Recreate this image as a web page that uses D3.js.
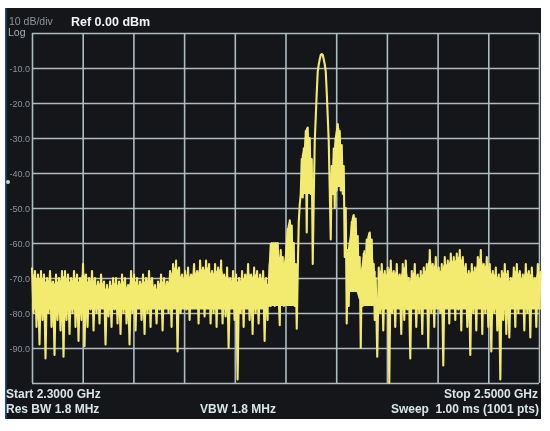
<!DOCTYPE html>
<html><head><meta charset="utf-8">
<script src="https://cdn.jsdelivr.net/npm/d3@7"></script>
<style>html,body{margin:0;padding:0;background:#fff}svg{display:block;filter:blur(0.45px)}text{font-family:"Liberation Sans",Arial,sans-serif}</style>
</head><body><div id="c"></div>
<script>
const freqTicks=[2.30,2.32,2.34,2.36,2.38,2.40,2.42,2.44,2.46,2.48,2.50];
const levelTicks=[0,-10,-20,-30,-40,-50,-60,-70,-80,-90,-100];
const levelLabels=["-10.0","-20.0","-30.0","-40.0","-50.0","-60.0","-70.0","-80.0","-90.0"];
const leftHigh=[-67,-68,-69,-68,-69,-70,-68,-71,-69,-70,-68,-68,-69,-70,-68,-69,-70,-66,-69,-70,-68,-70,-71,-69,-71,-72,-71,-70,-70,-71,-69,-70,-72,-68,-69,-70,-71,-69,-70,-68,-70,-72,-71,-69,-70,-71,-68,-66,-65,-67,-69,-68,-67,-69,-66,-68,-65,-67,-65,-66,-68,-66,-67,-65,-69,-67,-70,-68,-69,-70,-68,-69,-66,-69,-67,-68,-69,-68,-70];
const leftLow=[-80,-84,-89,-82,-93,-80,-84,-92,-82,-85,-92.5,-82,-86,-80,-84,-88,-82,-89.5,-84,-79,-85,-80,-83,-78,-89,-81,-84,-79,-83,-86,-80,-83,-89,-80,-85,-78,-82,-86,-80,-84,-77,-83,-79,-85,-76,-80,-84,-78,-91,-80,-76,-79,-82,-74,-78,-83,-77,-81,-78,-83,-80,-84,-78,-83,-81,-90,-78,-82,-99,-80,-84,-78,-82,-86,-80,-83,-78,-88,-82];
const centerTrace=[
-72,-78,-66,-78,-60,-76,-60,-78,-60,-76,
-60,-76,-83.5,-62,-76,-64,-78,-66,-76,-62,
-56,-68,-53.5,-66,-55,-72,-60,-78,-66,-84.5,
-68,-54,-49,-46,-36,-47,-33,-42,-28,-57,
-27,-42,-30,-46,-36,-66,-47,-31,-24,-17,
-11,-9,-7.5,-6.3,-6,-6.3,-7.5,-9,-11,-17,
-24,-31,-45,-59,-38,-46,-33,-50,-30,-45,
-26,-40,-28,-45,-32,-46,-38,-64,-50,-83,
-62,-78,-60,-70,-54,-64,-52,-62,-53,-68,
-58,-74,-64,-90,-68,-78,-63,-72,-66,-59,
-70,-58,-57,-66,-59,-76,-66,-82,-70];
const centerTop=[
-72,-66,-60,-60,-60,-60,-60,-61,-60,-60,
-60,-62,-64,-64,-66,-66,-66,-64,-60,-57,
-55,-54,-53.5,-54,-56,-60,-62,-66,-70,-72,
null,null,-49,-46,-35,-34,-33,-30,-27.5,-27,
-27.5,-30,-34,-36,-42,-46,null,null,null,null,
null,null,null,null,null,null,null,null,null,null,
null,null,null,null,-45,-36,-34,-30,-28,-26.5,
-26,-26.5,-28,-31,-34,-36,-44,-46,null,null,
-62,-60,-58,-55,-53,-52,-52,-53,-54,-58,
-62,-66,-68,-68,-66,-64,-62,-62,-64,-60,
-58,-57,-57,-58,-60,-64,-66,-68,-68];
const centerFloor=[
-78,-78,-78,-78,-78,-78,-78,-78,-78,-78,
-78,-78,-78,-78,-78,-78,-78,-78,-78,-78,
-78,-78,-78,-78,-78,-78,-78,-78,-76,-74,
null,null,-49,-48,-46,-46,-46,-46,-46,-46,
-46,-46,-46,-46,-46,-46,null,null,null,null,
null,null,null,null,null,null,null,null,null,null,
null,null,null,null,-45,-45,-45,-44,-44,-44,
-44,-44,-44,-44,-45,-45,-45,-46,null,null,
-74,-74,-74,-74,-74,-74,-74,-74,-74,-74,
-75,-76,-76,-77,-77,-77,-78,-78,-78,-78,
-78,-78,-78,-78,-78,-78,-78,-78,-78];
const rightHigh=[-67,-66,-68,-67,-65,-68,-66,-69,-66,-65,-70,-68,-66,-69,-68,-67,-66,-62,-66,-64,-67,-66,-64,-65,-63,-64,-63,-62,-64,-66,-68,-66,-67,-64,-62,-66,-64,-66,-68,-67,-69,-68,-66,-68,-70,-67,-66,-68,-69,-66,-68,-67,-70,-66,-68];
const rightLow=[-92.5,-80,-85,-78,-100,-80,-84,-78,-86,-82,-79,-93,-78,-84,-80,-86,-78,-90,-80,-84,-76,-80,-95,-78,-83,-76,-82,-79,-85,-78,-84,-92,-80,-85,-77,-86,-80,-84,-91,-80,-85,-99,-82,-86,-87,-78,-84,-80,-78,-85,-80,-87,-78,-84,-76];
const noiseSolidFloor=-79;
const sweepPoints=1001, leftFirst=0, centerFirst=465, rightFirst=678;
const noiseStep=2.96, centerStep=1.972;

const W=550,H=431;
const svg=d3.select("#c").append("svg").attr("width",W).attr("height",H);
svg.append("rect").attr("x",5).attr("y",8).attr("width",536).attr("height",411).attr("fill","#14161a");
svg.append("rect").attr("x",5).attr("y",8).attr("width",1.5).attr("height",411).attr("fill","#1d4f86");
svg.append("circle").attr("cx",8).attr("cy",182).attr("r",2).attr("fill","#c8d2d6");

const x=d3.scaleLinear().domain([2.3,2.5]).range([32,539]);
const y=d3.scaleLinear().domain([0,-100]).range([33,383]);
const gridColor="#aebcc2";
const gx=svg.append("g").attr("transform","translate(0,383)")
  .call(d3.axisBottom(x).tickValues(freqTicks).tickSize(-350).tickFormat(""));
gx.select(".domain").remove();
gx.selectAll("line").attr("stroke",gridColor).attr("stroke-width",1.6);
const gy=svg.append("g").attr("transform","translate(32,0)")
  .call(d3.axisLeft(y).tickValues(levelTicks).tickSize(-507).tickFormat(""));
gy.select(".domain").remove();
gy.selectAll("line").attr("stroke",gridColor).attr("stroke-width",1.6);
svg.selectAll(".lev").data(levelLabels).join("text").attr("class","lev")
  .attr("x",30).attr("y",(d,i)=>y(levelTicks[i+1])+3.5).attr("text-anchor","end")
  .attr("font-size",9).attr("fill","#8d9598").text(d=>d);

const yellow="#f3eb70";
const ghz=s=>2.3+0.2*s/(sweepPoints-1);
const sx=s=>x(ghz(s));
const pts=[];
d3.zip(leftHigh,leftLow).forEach((p,i)=>{
  pts.push([leftFirst+i*2*noiseStep,p[0]]);
  pts.push([leftFirst+(i*2+1)*noiseStep,p[1]]);
});
centerTrace.forEach((v,i)=>pts.push([centerFirst+i*centerStep,v]));
d3.zip(rightHigh,rightLow).forEach((p,i)=>{
  pts.push([rightFirst+(i*2+1)*noiseStep,p[1]]);
  pts.push([rightFirst+(i*2+2)*noiseStep,p[0]]);
});
const bandArea=d3.area().x(d=>sx(d.s)).y0(d=>y(d.floor)).y1(d=>y(d.top)).defined(d=>d.top!==null);
const leftBand=leftHigh.map((v,i)=>({s:leftFirst+i*2*noiseStep,top:v-1.5,floor:noiseSolidFloor}));
const rightBand=rightHigh.map((v,i)=>({s:rightFirst+(i*2+2)*noiseStep,top:v-1.5,floor:noiseSolidFloor}));
const centerBand=centerTop.map((v,i)=>({s:centerFirst+i*centerStep,top:v,floor:centerFloor[i]}));
[leftBand,centerBand,rightBand].forEach(b=>{
  svg.append("path").datum(b).attr("d",bandArea).attr("fill",yellow);
});
const line=d3.line().x(d=>sx(d[0])).y(d=>y(d[1]));
svg.append("path").datum(pts).attr("d",line).attr("fill","none")
  .attr("stroke",yellow).attr("stroke-width",2.1).attr("stroke-linejoin","round");

const labels=[
 ["10 dB/div",9,25,"start",10.5,"#8d9598","normal"],
 ["Log",8,36,"start",10.5,"#a9b0b3","normal"],
 ["Ref 0.00 dBm",71,26,"start",12.5,"#f2f4f4","bold"],
 ["Start 2.3000 GHz",6,398,"start",12,"#d9e6e8","bold"],
 ["Res BW 1.8 MHz",6,413,"start",12,"#d9e6e8","bold"],
 ["VBW 1.8 MHz",200,413,"start",12,"#d9e6e8","bold"],
 ["Stop 2.5000 GHz",538,398,"end",12,"#d9e6e8","bold"],
 ["Sweep  1.00 ms (1001 pts)",539,413,"end",12,"#d9e6e8","bold"]];
svg.selectAll(".lab").data(labels).join("text").attr("class","lab")
  .attr("x",d=>d[1]).attr("y",d=>d[2]).attr("text-anchor",d=>d[3])
  .attr("font-size",d=>d[4]).attr("fill",d=>d[5]).attr("font-weight",d=>d[6])
  .style("white-space","pre").text(d=>d[0]);
</script></body></html>
